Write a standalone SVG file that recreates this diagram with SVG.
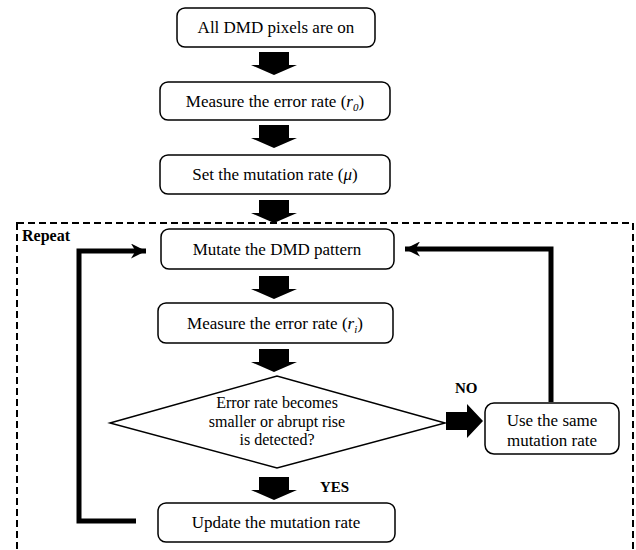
<svg xmlns="http://www.w3.org/2000/svg" width="636" height="550" viewBox="0 0 636 550">
<style>
.box{fill:#fff;stroke:#000;stroke-width:1.5}
.t{font-family:"Liberation Serif","Times New Roman",serif;font-size:17px;fill:#000;text-anchor:middle}
.b{font-family:"Liberation Serif","Times New Roman",serif;font-size:15px;font-weight:bold;fill:#000}
.line{fill:none;stroke:#000;stroke-width:5}
.blk{fill:#000}
</style>
<defs>
<marker id="ah" viewBox="0 0 10 10" refX="10" refY="5" markerWidth="3.2" markerHeight="3" orient="auto" markerUnits="strokeWidth">
<path d="M0,0 L10,5 L0,10 L3,5 Z" fill="#000"/>
</marker>
</defs>
<rect id="repeat" x="17" y="223" width="616" height="328" fill="none" stroke="#000" stroke-width="2" stroke-dasharray="7,4"/>
<text class="b" x="22" y="241" style="font-size:16px">Repeat</text>
<g id="connectors">
<path class="blk" d="M259,52 H289 V65 H297 L274,75 L251,65 H259 Z"/>
<path class="blk" d="M259,125 H289 V138 H297 L274,148 L251,138 H259 Z"/>
<path class="blk" d="M259,200 H289 V213 H297 L274,223 L251,213 H259 Z"/>
<path class="blk" d="M259,276 H289 V289 H297 L274,299 L251,289 H259 Z"/>
<path class="blk" d="M259,349 H289 V362 H297 L274,372 L251,362 H259 Z"/>
<path class="blk" d="M259,477 H289 V490 H297 L274,500 L251,490 H259 Z"/>
<path class="blk" d="M446,412 H467 V404 L483,421 L467,438 V430 H446 Z"/>
<path class="line" d="M551,402 V249 H405" marker-end="url(#ah)"/>
<path class="line" d="M136,521 H79 V251 H146" marker-end="url(#ah)"/>
<text class="b" x="455" y="393">NO</text>
<text class="b" x="320" y="492">YES</text>
</g>
<g id="n1">
<rect class="box" x="177" y="8" width="198" height="39" rx="8"/>
<text class="t" x="276" y="33">All DMD pixels are on</text>
</g>
<g id="n2">
<rect class="box" x="160" y="82" width="230" height="38" rx="8"/>
<text class="t" x="275" y="107">Measure the error rate (<tspan font-style="italic">r</tspan><tspan font-style="italic" font-size="11" dy="4">0</tspan><tspan dy="-4">)</tspan></text>
</g>
<g id="n3">
<rect class="box" x="160" y="155" width="230" height="39" rx="8"/>
<text class="t" x="275" y="180">Set the mutation rate (<tspan font-style="italic">μ</tspan>)</text>
</g>
<g id="n4">
<rect class="box" x="161" y="229" width="233" height="40" rx="8"/>
<text class="t" x="277" y="255">Mutate the DMD pattern</text>
</g>
<g id="n5">
<rect class="box" x="158" y="303" width="235" height="40" rx="8"/>
<text class="t" x="275" y="329">Measure the error rate (<tspan font-style="italic">r</tspan><tspan font-style="italic" font-size="11" dy="4">i</tspan><tspan dy="-4">)</tspan></text>
</g>
<g id="n6">
<polygon class="box" points="110,423 277,376 445,423 277,468"/>
<text class="t" x="277" y="408" style="font-size:16px">Error rate becomes<tspan x="277" dy="18.5">smaller or abrupt rise</tspan><tspan x="277" dy="18.5">is detected?</tspan></text>
</g>
<g id="n7">
<rect class="box" x="485" y="403" width="134" height="51" rx="9"/>
<text class="t" x="552" y="426">Use the same<tspan x="552" dy="20">mutation rate</tspan></text>
</g>
<g id="n8">
<rect class="box" x="158" y="503" width="237" height="39" rx="8"/>
<text class="t" x="276" y="528">Update the mutation rate</text>
</g>
</svg>
